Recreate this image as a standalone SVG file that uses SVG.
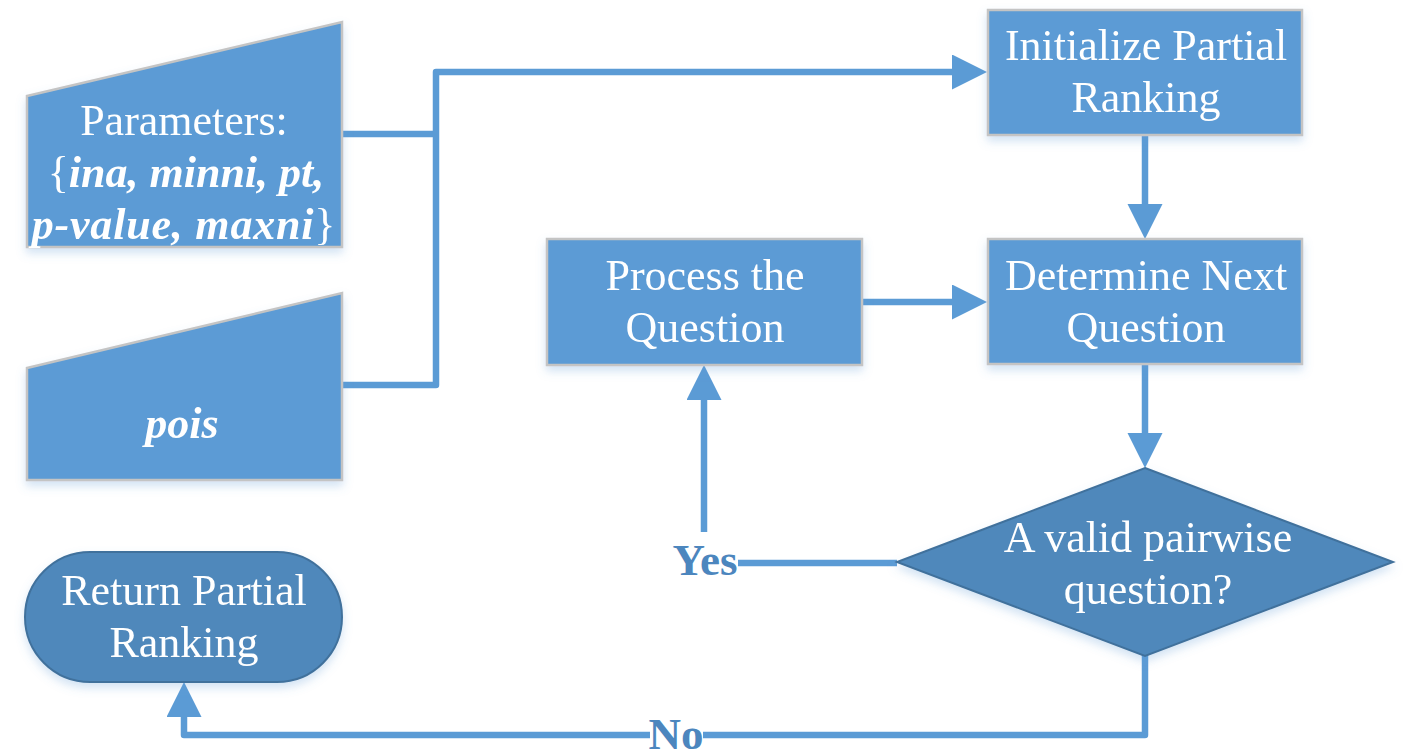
<svg xmlns="http://www.w3.org/2000/svg" width="1415" height="751" viewBox="0 0 1415 751">
<style>
.box{fill:#5B9BD5;stroke:#C4C4C4;stroke-width:2.5}
.dark{fill:#4F88BB;stroke:#41719C;stroke-width:2}
.t{font-family:"Liberation Serif","Times New Roman",serif;font-size:44px;fill:#FFFFFF;text-anchor:middle}
.bi{font-weight:bold;font-style:italic}
.lbl{font-family:"Liberation Serif","Times New Roman",serif;font-size:45px;font-weight:bold;fill:#4C86BE;text-anchor:middle}
.c{fill:none;stroke:#5B9BD5;stroke-width:6.5;stroke-linejoin:round}
</style>
<defs>
<filter id="sh" x="-10%" y="-10%" width="120%" height="130%">
<feDropShadow dx="0" dy="5" stdDeviation="5" flood-color="#5B9BD5" flood-opacity="0.28"/>
</filter>
<marker id="ah" markerUnits="userSpaceOnUse" markerWidth="36" markerHeight="36" refX="0" refY="17.5" orient="auto" viewBox="0 0 36 36">
<path d="M0,0 L35,17.5 L0,35 Z" fill="#5B9BD5"/>
</marker>
</defs>
<rect width="1415" height="751" fill="#FFFFFF"/>
<g id="connectors">
<path class="c" d="M342,134 H436"/>
<path class="c" d="M342,385 H436 V72 H952" marker-end="url(#ah)"/>
<path class="c" d="M1145,135 V204" marker-end="url(#ah)"/>
<path class="c" d="M862,302 H952" marker-end="url(#ah)"/>
<path class="c" d="M1145,364 V433" marker-end="url(#ah)"/>
<path class="c" d="M897,563 H738"/>
<path class="c" d="M704,532 V400" marker-end="url(#ah)"/>
<path class="c" d="M1145,655 V735 H703"/>
<path class="c" d="M650,735 H184 V717" marker-end="url(#ah)"/>
<text class="lbl" x="705" y="575">Yes</text>
<text class="lbl" x="676" y="749">No</text>
</g>
<g id="params" filter="url(#sh)">
<polygon class="box" points="27,96 342,22 342,247 27,247"/>
<text class="t" x="184" y="135">Parameters:</text>
<text class="t" x="186" y="187">{<tspan class="bi">ina, minni, pt,</tspan></text>
<text class="t" x="184" y="239" letter-spacing="0.8"><tspan class="bi">p-value, maxni</tspan>}</text>
</g>
<g id="pois" filter="url(#sh)">
<polygon class="box" points="27,368 342,293 342,480 27,480"/>
<text class="t bi" x="182" y="438">pois</text>
</g>
<g id="init" filter="url(#sh)">
<rect class="box" x="988" y="10" width="314" height="125"/>
<text class="t" x="1146" y="60">Initialize Partial</text>
<text class="t" x="1146" y="112">Ranking</text>
</g>
<g id="determine" filter="url(#sh)">
<rect class="box" x="988" y="239" width="314" height="125"/>
<text class="t" x="1146" y="290">Determine Next</text>
<text class="t" x="1146" y="342">Question</text>
</g>
<g id="process" filter="url(#sh)">
<rect class="box" x="547" y="239" width="315" height="126"/>
<text class="t" x="705" y="290">Process the</text>
<text class="t" x="705" y="342">Question</text>
</g>
<g id="decision" filter="url(#sh)">
<polygon class="dark" points="1145,468 1393,562 1145,656 897,562"/>
<text class="t" x="1148" y="552">A valid pairwise</text>
<text class="t" x="1148" y="604">question?</text>
</g>
<g id="return" filter="url(#sh)">
<rect class="dark" x="25" y="552" width="317" height="130" rx="65" ry="65"/>
<text class="t" x="184" y="605">Return Partial</text>
<text class="t" x="184" y="657">Ranking</text>
</g>
</svg>
